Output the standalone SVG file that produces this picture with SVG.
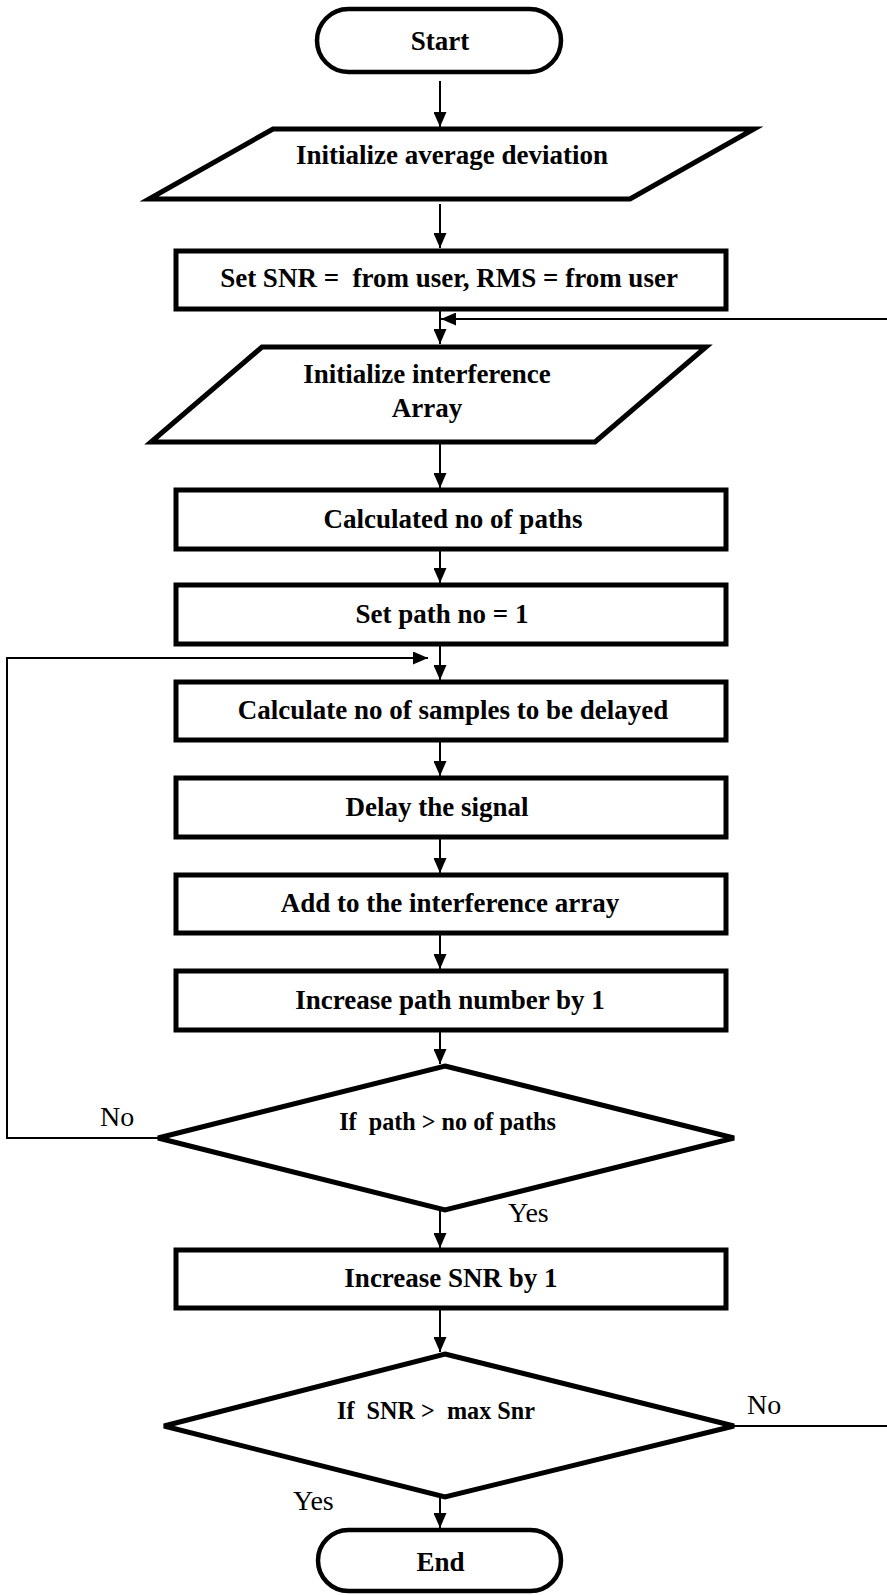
<svg xmlns="http://www.w3.org/2000/svg" width="887" height="1595" viewBox="0 0 887 1595">
<style>
.shape{fill:#fff;stroke:#000;stroke-width:5;stroke-linejoin:miter}
.term{fill:#fff;stroke:#000;stroke-width:4.5}
.t{font-family:"Liberation Serif","Times New Roman",serif;font-weight:bold;font-size:27px;text-anchor:middle;fill:#000;white-space:pre}
.d{font-family:"Liberation Serif","Times New Roman",serif;font-weight:bold;font-size:24.2px;text-anchor:middle;fill:#000;white-space:pre}
.l{font-family:"Liberation Serif","Times New Roman",serif;font-size:28px;fill:#000}
.c{fill:none;stroke:#000;stroke-width:2}
</style>
<defs>
<marker id="ah" markerUnits="userSpaceOnUse" markerWidth="15" markerHeight="13" refX="15" refY="6.5" orient="auto">
<path d="M0,0 L15,6.5 L0,13 z" fill="#000"/>
</marker>
</defs>
<g id="connectors">
<line class="c" x1="440" y1="81" x2="440" y2="127" marker-end="url(#ah)"/>
<line class="c" x1="440" y1="204" x2="440" y2="248" marker-end="url(#ah)"/>
<line class="c" x1="440" y1="303" x2="440" y2="344" marker-end="url(#ah)"/>
<line class="c" x1="440" y1="444" x2="440" y2="488" marker-end="url(#ah)"/>
<line class="c" x1="440" y1="548" x2="440" y2="583" marker-end="url(#ah)"/>
<line class="c" x1="440" y1="639" x2="440" y2="680" marker-end="url(#ah)"/>
<line class="c" x1="440" y1="740" x2="440" y2="776" marker-end="url(#ah)"/>
<line class="c" x1="440" y1="837" x2="440" y2="873" marker-end="url(#ah)"/>
<line class="c" x1="440" y1="933" x2="440" y2="969" marker-end="url(#ah)"/>
<line class="c" x1="440" y1="1030" x2="440" y2="1064" marker-end="url(#ah)"/>
<line class="c" x1="440" y1="1210" x2="440" y2="1248" marker-end="url(#ah)"/>
<line class="c" x1="440" y1="1308" x2="440" y2="1352" marker-end="url(#ah)"/>
<line class="c" x1="440" y1="1497" x2="440" y2="1528" marker-end="url(#ah)"/>
<path class="c" d="M734,1426 H895 V319 H441" marker-end="url(#ah)"/>
<path class="c" d="M158,1138 H7 V658 H428" marker-end="url(#ah)"/>
</g>
<g id="start">
<rect class="term" x="317" y="9" width="244" height="63" rx="31.5"/>
<text class="t" x="440" y="50">Start</text>
</g>
<g id="init-avg">
<polygon class="shape" points="273,129 754,129 630,199 149,199"/>
<text class="t" x="452" y="164">Initialize average deviation</text>
</g>
<g id="set-snr">
<rect class="shape" x="176" y="251" width="550" height="58"/>
<text class="t" x="449" y="287">Set SNR =  from user, RMS = from user</text>
</g>
<g id="init-interf">
<polygon class="shape" points="262,347 706,347 595,442 151,442"/>
<text class="t" x="427" y="383">Initialize interference</text>
<text class="t" x="427" y="417">Array</text>
</g>
<g id="calc-paths">
<rect class="shape" x="176" y="490" width="550" height="59"/>
<text class="t" x="453" y="528">Calculated no of paths</text>
</g>
<g id="set-path">
<rect class="shape" x="176" y="585" width="550" height="59"/>
<text class="t" x="442" y="623">Set path no = 1</text>
</g>
<g id="calc-samples">
<rect class="shape" x="176" y="682" width="550" height="58"/>
<text class="t" x="453" y="719">Calculate no of samples to be delayed</text>
</g>
<g id="delay">
<rect class="shape" x="176" y="778" width="550" height="59"/>
<text class="t" x="437" y="816">Delay the signal</text>
</g>
<g id="add">
<rect class="shape" x="176" y="875" width="550" height="58"/>
<text class="t" x="450" y="912">Add to the interference array</text>
</g>
<g id="inc-path">
<rect class="shape" x="176" y="971" width="550" height="59"/>
<text class="t" x="450" y="1009">Increase path number by 1</text>
</g>
<g id="dec-path">
<polygon class="shape" points="445,1066 734,1138 445,1210 158,1138"/>
<text class="d" x="447.5" y="1130">If  path &gt; no of paths</text>
<text class="l" x="100" y="1126">No</text>
<text class="l" x="508" y="1222">Yes</text>
</g>
<g id="inc-snr">
<rect class="shape" x="176" y="1250" width="550" height="58"/>
<text class="t" x="451" y="1287">Increase SNR by 1</text>
</g>
<g id="dec-snr">
<polygon class="shape" points="445,1354 734,1426 445,1497 164,1426"/>
<text class="d" x="436" y="1419">If  SNR &gt;  max Snr</text>
<text class="l" x="747" y="1414">No</text>
<text class="l" x="293" y="1510">Yes</text>
</g>
<g id="end">
<rect class="term" x="318" y="1530" width="243" height="61" rx="30.5"/>
<text class="t" x="440.5" y="1571">End</text>
</g>
</svg>
